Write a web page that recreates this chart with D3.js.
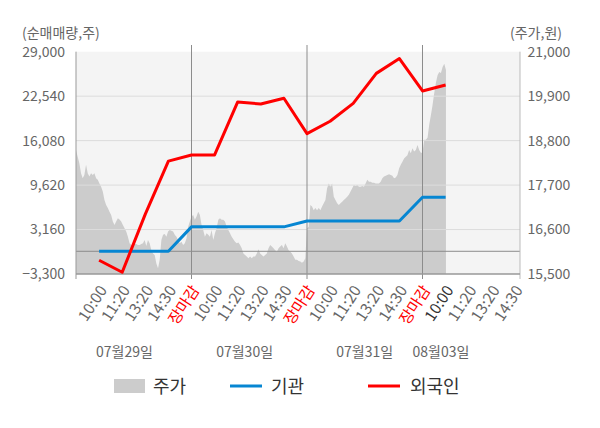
<!DOCTYPE html>
<html><head><meta charset="utf-8">
<script src="https://cdn.jsdelivr.net/npm/d3@7/dist/d3.min.js"></script>
<style>
html,body{margin:0;padding:0;background:#fff;}
svg{display:block;font-family:"Noto Sans CJK KR","Noto Sans",sans-serif;}
</style></head>
<body><svg id="c" width="600" height="428"></svg>
<script>
// ---- data ----
const timeLabels = ["10:00","11:20","13:20","14:30","장마감","10:00","11:20","13:20","14:30","장마감","10:00","11:20","13:20","14:30","장마감","10:00","11:20","13:20","14:30"];
const dayLabels = ["07월29일","07월30일","07월31일","08월03일"];
const dayLabelIdx = [2.1, 7.3, 12.5, 15.8];
const dayBreaks = [5, 10, 15];
const leftTicks = [29000, 22540, 16080, 9620, 3160, -3300];
const rightTicks = [21000, 19900, 18800, 17700, 16600, 15500];
const flowIdx = [1,2,3,4,5,6,7,8,9,10,11,12,13,14,15,16];
const institution = [0,0,0,0,3550,3550,3550,3550,3550,4400,4400,4400,4400,4400,7850,7850];
const foreigner = [-1300,-3050,5400,13100,14000,14000,21700,21400,22230,17100,18900,21500,25850,28000,23300,24150];
const samplesPerDay = 69;
const price = [
18570,18400,18240,17990,17870,17950,18200,17990,17910,17990,
17950,17990,17870,17830,17740,17660,17540,17330,17210,17130,
17040,16960,16800,16710,16800,16880,16850,16800,16710,16630,
16550,16420,16260,16220,16220,16240,16240,16220,16220,16240,
16260,16340,16190,16340,16260,16090,16010,15970,15760,15640,
15850,16340,16470,16490,16420,16550,16590,16570,16550,16470,
16420,16340,16260,16300,16220,16260,16380,16670,16800,16920,
16960,16840,16920,17040,16960,16710,16590,16420,16510,16470,
16420,16590,16340,16510,16630,16840,16880,
16840,16840,16800,16670,16590,16510,16420,16360,16300,16260,
16280,16220,16140,16010,15970,15930,15890,15930,15890,15930,
15930,16010,16110,16010,15970,15930,15970,16010,16140,16220,
16180,16140,16090,16050,16140,16180,16220,16140,16260,16180,
16090,16050,16010,15930,15850,15850,15820,15810,15780,15810,
15890,
16630,16670,17210,17170,17080,17130,17080,17130,17080,17170,
17250,17330,17620,17740,17660,17740,17410,17330,17250,17210,
17250,17290,17330,17370,17410,17460,17540,17620,17700,17680,
17700,17660,17660,17680,17660,17740,17830,17780,17780,17760,
17760,17740,17740,17740,17780,17870,17910,17930,17950,17970,
17950,17930,17870,17890,17950,18110,18200,18280,18360,18400,
18440,18570,18490,18610,18530,18570,18690,18570,18500,18500,
18820,18820,18870,19190,19430,19680,19980,20230,20420,20500,
20470,20620,20700,20550
];

// ---- layout ----
const L = 76, R = 520, T = 51.7, B = 274;
const svg = d3.select("#c");
const x = d3.scaleLinear().domain([0, 19.22]).range([L, R]);
const yL = d3.scaleLinear().domain([-3300, 29000]).range([B, T]);
const yR = d3.scaleLinear().domain([15500, 21000]).range([B, T]);

svg.append("rect").attr("x", L).attr("y", T).attr("width", R - L).attr("height", B - T).attr("fill", "#f4f4f4");

// price area
const area = d3.area()
  .x((d, i) => x(i * 5 / samplesPerDay))
  .y0(yR(15500))
  .y1(d => yR(d));
svg.append("path").datum(price).attr("d", area).attr("fill", "#cccccc");

// grid
svg.append("g").selectAll("line").data(leftTicks.slice(1, -1)).join("line")
  .attr("x1", L).attr("x2", R).attr("y1", d => yL(d)).attr("y2", d => yL(d))
  .attr("stroke", "#dcdcdc").attr("stroke-width", 1);
// zero line
svg.append("line").attr("x1", L).attr("x2", R).attr("y1", yL(0)).attr("y2", yL(0))
  .attr("stroke", "#8c8c8c").attr("stroke-width", 1);
// day break lines
svg.append("g").selectAll("line").data(dayBreaks).join("line")
  .attr("x1", d => x(d)).attr("x2", d => x(d)).attr("y1", 45).attr("y2", B + 5)
  .attr("stroke", "#8c8c8c").attr("stroke-width", 1);
// axes frame
svg.append("line").attr("x1", L).attr("x2", L).attr("y1", T).attr("y2", B + 5).attr("stroke", "#999").attr("stroke-width", 1);
svg.append("line").attr("x1", R).attr("x2", R).attr("y1", T).attr("y2", B + 5).attr("stroke", "#bbb").attr("stroke-width", 1);
svg.append("line").attr("x1", L).attr("x2", R).attr("y1", B).attr("y2", B).attr("stroke", "#999").attr("stroke-width", 1.5);

// flow lines
const line = d3.line().x((d, i) => x(flowIdx[i])).y(d => yL(d));
svg.append("path").datum(institution).attr("d", line).attr("fill", "none")
  .attr("stroke", "#0686d2").attr("stroke-width", 3).attr("stroke-linejoin", "round");
svg.append("path").datum(foreigner).attr("d", line).attr("fill", "none")
  .attr("stroke", "#ff0000").attr("stroke-width", 3).attr("stroke-linejoin", "round");

// left axis labels
const fmt = d3.format(",");
svg.append("g").selectAll("text").data(leftTicks).join("text")
  .attr("x", L - 11).attr("y", d => yL(d)).attr("dy", "0.35em")
  .attr("text-anchor", "end").attr("font-size", 14).attr("fill", "#666")
  .text(d => fmt(d));
svg.append("g").selectAll("text").data(rightTicks).join("text")
  .attr("x", R + 7.5).attr("y", d => yR(d)).attr("dy", "0.35em")
  .attr("text-anchor", "start").attr("font-size", 14).attr("fill", "#666")
  .text(d => fmt(d));
svg.append("text").attr("x", 22).attr("y", 38).attr("font-size", 14).attr("fill", "#666").text("(순매매량,주)");
svg.append("text").attr("x", 510).attr("y", 38).attr("font-size", 14).attr("fill", "#666").text("(주가,원)");

// x labels
svg.append("g").selectAll("text").data(timeLabels).join("text")
  .attr("transform", (d, i) => `translate(${x(i + 1) + 4},${B + 13}) rotate(-57)`)
  .attr("text-anchor", "end").attr("dy", "0.35em").attr("font-size", 15.5)
  .attr("fill", (d, i) => d === "장마감" ? "#ff0000" : (i === 15 ? "#333" : "#666"))
  .text(d => d);
svg.append("g").selectAll("text").data(dayLabels).join("text")
  .attr("x", (d, i) => x(dayLabelIdx[i])).attr("y", 357)
  .attr("text-anchor", "middle").attr("font-size", 14).attr("fill", "#666")
  .text(d => d);

// legend
const lg = svg.append("g").attr("font-size", 18).attr("fill", "#333");
lg.append("rect").attr("x", 114).attr("y", 379).attr("width", 31).attr("height", 14).attr("fill", "#cccccc");
lg.append("text").attr("x", 153).attr("y", 393).text("주가");
lg.append("line").attr("x1", 230).attr("x2", 262).attr("y1", 386).attr("y2", 386).attr("stroke", "#0686d2").attr("stroke-width", 3);
lg.append("text").attr("x", 271).attr("y", 393).text("기관");
lg.append("line").attr("x1", 368).attr("x2", 400).attr("y1", 386).attr("y2", 386).attr("stroke", "#ff0000").attr("stroke-width", 3);
lg.append("text").attr("x", 410).attr("y", 393).text("외국인");
</script></body></html>
